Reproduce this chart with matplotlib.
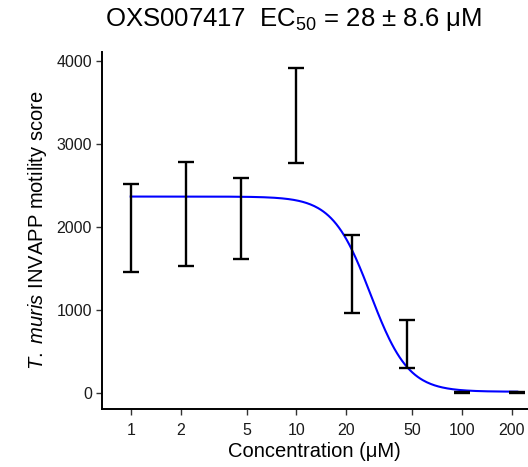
import numpy as np
import matplotlib
matplotlib.use("Agg")
import matplotlib.pyplot as plt

plt.rcParams['font.family'] = ['Liberation Sans', 'DejaVu Sans']
plt.rcParams['mathtext.fontset'] = 'custom'
plt.rcParams['mathtext.rm'] = 'Liberation Sans'
plt.rcParams['mathtext.it'] = 'Liberation Sans:italic'

# Data
conc = [1.0, 2.154, 4.642, 10.0, 21.54, 46.42, 100.0, 215.4]
mean_score = [1984, 2150, 2099, 3340, 1429, 587, 8, 3]
sd_score = [527, 625, 491, 574, 467, 288, 6, 3]
x_ticks = [1, 2, 5, 10, 20, 50, 100, 200]
y_ticks = [0, 1000, 2000, 3000, 4000]

# Fitted 4-parameter logistic
fit_top = 2363
fit_bottom = 12
fit_ec50 = 28
fit_hill = 3.8

fig = plt.figure(figsize=(5.28, 4.67), dpi=100)
ax = fig.add_axes([0.1926, 0.1242, 0.8074, 0.7651])

xc = np.logspace(np.log10(conc[0]), np.log10(conc[-1]), 300)
yc = fit_bottom + (fit_top - fit_bottom) / (1 + (xc / fit_ec50) ** fit_hill)
ax.plot(xc, yc, color='#0000FF', lw=1.5, zorder=2)

ax.errorbar(conc, mean_score, yerr=sd_score, fmt='none', ecolor='black',
            elinewidth=1.7, capsize=6.1, capthick=1.7, zorder=3)

ax.set_xscale('log')
ax.set_xlim(0.668, 250)
ax.set_ylim(-196, 4108)
ax.set_xticks(x_ticks)
ax.set_xticklabels([str(t) for t in x_ticks])
ax.xaxis.set_minor_locator(matplotlib.ticker.NullLocator())
ax.set_yticks(y_ticks)

for s in ['top', 'right']:
    ax.spines[s].set_visible(False)
for s in ['left', 'bottom']:
    ax.spines[s].set_linewidth(1.4)
    ax.spines[s].set_color('black')

ax.tick_params(axis='both', direction='out', length=4, width=1.0,
               color='#333333', labelsize=11.5, labelcolor='#1a1a1a', pad=3)
ax.tick_params(axis='x', pad=6)

ax.set_xlabel('Concentration (μM)', fontsize=14.5, color='black', labelpad=3)
ax.set_ylabel(r'$\mathit{T.\ muris}$ INVAPP motility score', fontsize=14.5,
              color='black', labelpad=5)

fig.text(0.555, 0.958, r'OXS007417  EC$_{50}$ = 28 ± 8.6 μM', fontsize=18.5,
         ha='center', va='center', color='black')

fig.savefig('out.png', dpi=100)
